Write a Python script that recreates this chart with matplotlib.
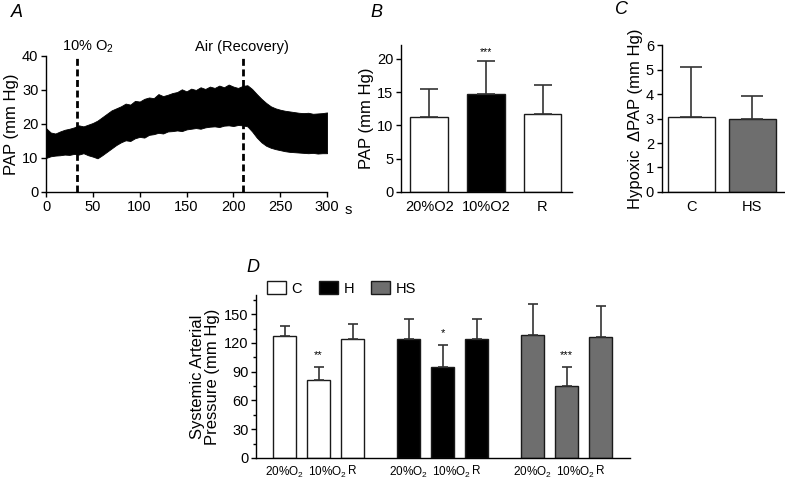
import matplotlib
matplotlib.use("Agg")
import matplotlib.pyplot as plt
import matplotlib.transforms as mtransforms
from matplotlib.patches import Patch
from matplotlib.ticker import MultipleLocator

plt.rcParams["font.family"] = ["Liberation Sans", "DejaVu Sans"]
plt.rcParams["mathtext.fontset"] = "custom"
plt.rcParams["mathtext.rm"] = "Liberation Sans"
plt.rcParams["mathtext.it"] = "Liberation Sans:italic"
plt.rcParams["axes.linewidth"] = 1.0
plt.rcParams["xtick.major.width"] = 1.0
plt.rcParams["ytick.major.width"] = 1.0
plt.rcParams["xtick.major.size"] = 3.5
plt.rcParams["ytick.major.size"] = 3.5

# ---------------------------------------------
# Panel A: PAP trace envelope (read every 5 s)
# ---------------------------------------------
trace_time = list(range(0, 305, 5))
trace_upper = [18.8, 17.5, 17.2, 17.8, 18.3, 18.6, 19.0, 19.6, 19.3, 19.8,
               20.3, 21.0, 22.0, 23.0, 24.0, 24.6, 25.2, 26.0, 25.7, 26.8,
               26.6, 27.4, 27.8, 27.6, 28.8, 28.2, 28.6, 29.1, 29.4, 30.2,
               29.6, 30.4, 30.0, 30.8, 30.3, 31.0, 30.6, 31.3, 30.8, 31.6,
               31.0, 30.6, 31.2, 31.4, 30.3, 28.8, 27.4, 26.2, 25.2, 24.6,
               24.2, 23.9, 23.7, 23.5, 23.3, 23.2, 23.3, 23.0, 23.1, 23.2,
               23.4]
trace_lower = [10.0, 10.5, 10.7, 10.8, 11.0, 10.9, 11.2, 11.0, 11.4, 10.8,
               10.4, 9.9, 10.8, 11.8, 12.8, 13.8, 14.6, 15.2, 15.0, 15.8,
               16.2, 16.0, 16.8, 17.0, 17.4, 17.2, 17.8, 17.9, 18.1, 17.9,
               18.4, 18.6, 18.8, 18.6, 19.0, 19.2, 19.3, 19.1, 19.5, 19.6,
               19.4, 19.7, 19.6, 19.3, 17.8, 16.0, 14.6, 13.6, 13.0, 12.6,
               12.3, 12.0, 11.8, 11.7, 11.6, 11.5, 11.4, 11.5, 11.3, 11.4,
               11.4]
hypoxia_start = 33
air_start = 210

# Panel B
b_labels = ["20%O2", "10%O2", "R"]
b_means = [11.2, 14.7, 11.7]
b_errs = [4.2, 4.9, 4.3]
b_colors = ["white", "black", "white"]

# Panel C
c_labels = ["C", "HS"]
c_means = [3.05, 2.98]
c_errs = [2.05, 0.95]
c_colors = ["white", "#6e6e6e"]

# Panel D
d_groups = ["C", "H", "HS"]
d_conditions = ["20%O$_2$", "10%O$_2$", "R"]
d_means = [[127, 81, 124], [124, 95, 124], [128, 75, 126]]
d_errs = [[11, 14, 16], [21, 23, 21], [33, 20, 33]]
d_stars = [["", "**", ""], ["", "*", ""], ["", "***", ""]]
d_colors = ["white", "black", "#6e6e6e"]

EDGE = "#1a1a1a"
TICK_FS = 10.5
LABEL_FS = 12


def clean(ax):
    ax.spines["top"].set_visible(False)
    ax.spines["right"].set_visible(False)
    ax.tick_params(labelsize=TICK_FS, direction="out", pad=2)


fig = plt.figure(figsize=(7.85, 4.83), dpi=100)

# ---------------- A ----------------
axa = fig.add_axes([0.0586, 0.6025, 0.358, 0.2816])
axa.fill_between(trace_time, trace_lower, trace_upper, color="black", linewidth=0.6)
for t in (hypoxia_start, air_start):
    axa.plot([t, t], [0, 40], color="black", linewidth=2, dashes=(2.5, 1.3))
axa.set_xlim(0, 300)
axa.set_ylim(0, 40)
axa.set_xticks(range(0, 301, 50))
axa.set_yticks(range(0, 41, 10))
axa.set_ylabel("PAP (mm Hg)", fontsize=LABEL_FS, labelpad=2)
clean(axa)
axa.text(44.8, 1.066, "10% O$_2$", transform=axa.get_xaxis_transform(),
         ha="center", va="center", fontsize=TICK_FS)
axa.text(209, 1.066, "Air (Recovery)", transform=axa.get_xaxis_transform(),
         ha="center", va="center", fontsize=TICK_FS)
axa.text(1.075, -0.135, "s", transform=axa.transAxes, ha="center", va="center",
         fontsize=TICK_FS)
fig.text(0.022, 0.975, "A", fontsize=13, style="italic", ha="center", va="center")

# ---------------- B ----------------
axb = fig.add_axes([0.5108, 0.6025, 0.2178, 0.3043])
xb = list(range(len(b_labels)))
axb.bar(xb, b_means, width=0.67, color=b_colors, edgecolor=EDGE, linewidth=1.0,
        yerr=[[0] * len(b_errs), b_errs],
        error_kw=dict(ecolor="#333333", elinewidth=1.2, capsize=6.5, capthick=1.2))
axb.text(1, 21.0, "***", ha="center", va="center", fontsize=7.5)
axb.set_xlim(-0.5, 2.52)
axb.set_ylim(0, 22.05)
axb.set_yticks(range(0, 21, 5))
axb.set_xticks(xb)
axb.set_xticklabels(b_labels)
axb.set_ylabel("PAP (mm Hg)", fontsize=LABEL_FS, labelpad=2)
clean(axb)
axb.tick_params(axis="x", length=0, pad=6)
fig.text(0.4795, 0.975, "B", fontsize=13, style="italic", ha="center", va="center")

# ---------------- C ----------------
axc = fig.add_axes([0.8427, 0.6025, 0.156, 0.3043])
xc = list(range(len(c_labels)))
axc.bar(xc, c_means, width=0.77, color=c_colors, edgecolor=EDGE, linewidth=1.0,
        yerr=[[0] * len(c_errs), c_errs],
        error_kw=dict(ecolor="#333333", elinewidth=1.2, capsize=8, capthick=1.2))
axc.set_xlim(-0.49, 1.52)
axc.set_ylim(0, 6)
axc.set_yticks(range(0, 7))
axc.set_xticks(xc)
axc.set_xticklabels(c_labels)
axc.set_ylabel("Hypoxic  \u0394PAP (mm Hg)", fontsize=LABEL_FS, labelpad=2)
clean(axc)
axc.tick_params(axis="x", length=0, pad=6)
fig.text(0.792, 0.98, "C", fontsize=13, style="italic", ha="center", va="center")

# ---------------- D ----------------
axd = fig.add_axes([0.3261, 0.0518, 0.4764, 0.3375])
group_gap = 3.65
xd, xd_labels = [], []
for g, name in enumerate(d_groups):
    xs = [g * group_gap + i for i in range(len(d_conditions))]
    axd.bar(xs, d_means[g], width=0.68, color=d_colors[g], edgecolor=EDGE,
            linewidth=1.0, yerr=[[0] * 3, d_errs[g]],
            error_kw=dict(ecolor="#333333", elinewidth=1.2, capsize=3.6, capthick=1.2))
    for x, m, e, s in zip(xs, d_means[g], d_errs[g], d_stars[g]):
        if s:
            axd.text(x, m + e + 12, s, ha="center", va="center", fontsize=8)
    xd += xs
    xd_labels += d_conditions
axd.set_xlim(-0.84, 10.16)
axd.set_ylim(0, 170)
axd.set_yticks(range(0, 151, 30))
axd.yaxis.set_minor_locator(MultipleLocator(15))
axd.tick_params(axis="y", which="minor", length=2.5, width=1.0)
axd.set_xticks(xd)
axd.set_xticklabels(xd_labels)
axd.set_ylabel("Systemic Arterial\nPressure (mm Hg)", fontsize=12, labelpad=3,
               linespacing=1.0)
clean(axd)
axd.tick_params(axis="x", length=0, pad=5, labelsize=8.5)
# the labels sit tight in the original: nudge the middle one to the right
shift = mtransforms.ScaledTranslation(0.085, 0, fig.dpi_scale_trans)
for lab in axd.get_xticklabels()[1::3]:
    lab.set_transform(lab.get_transform() + shift)
handles = [Patch(facecolor=c, edgecolor=EDGE, linewidth=1.0, label=n)
           for c, n in zip(d_colors, d_groups)]
axd.legend(handles=handles, ncol=3, loc="center left", bbox_to_anchor=(0.03, 1.04),
           frameon=False, fontsize=TICK_FS, handlelength=1.3, handleheight=0.95,
           handletextpad=0.35, columnspacing=1.2, borderpad=0, borderaxespad=0)
fig.text(0.322, 0.447, "D", fontsize=13, style="italic", ha="center", va="center")

fig.savefig("out.png", dpi=100)
